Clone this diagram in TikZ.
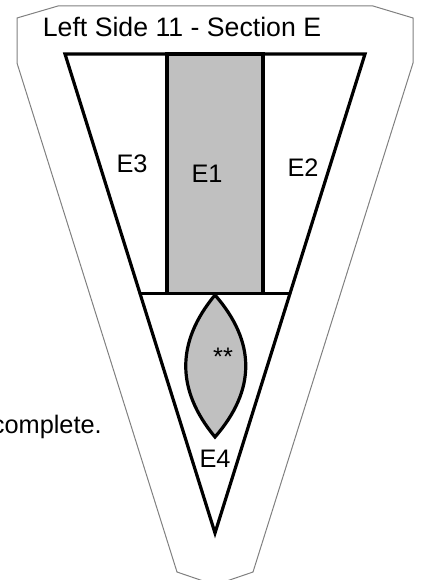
\documentclass[tikz,border=0pt]{standalone}
\usepackage{fontspec}
\setmainfont{Liberation Sans}
\usetikzlibrary{calc}
\definecolor{ink}{HTML}{000000}
\definecolor{rim}{HTML}{808080}
\definecolor{shade}{HTML}{C0C0C0}
\tikzset{
    outline/.style={draw=rim, line width=0.75pt, line join=miter},
    section/.style={draw=ink, line width=2.4pt, line join=miter},
    shaded section/.style={section, fill=shade},
    title/.style={font=\fontsize{20}{23}\selectfont, text=ink,
                  anchor=base, inner sep=0pt},
    zone label/.style={font=\fontsize{19}{22}\selectfont, text=ink,
                       anchor=base, inner sep=0pt},
}

\begin{document}
\begin{tikzpicture}[x=0.75pt, y=-0.75pt]
\useasboundingbox (0,0) rectangle (424,580);
\clip (0,0) rectangle (424,580);

% ---------------------------------------------------------------------------
% Outer cut line
% ---------------------------------------------------------------------------
\draw[outline] (17,18) -- (58,6) -- (373,6) -- (413,18) -- (413,63)
    -- (253,572) -- (215,585) -- (177,572) -- (17,63) -- cycle;

% ---------------------------------------------------------------------------
% Section E
% ---------------------------------------------------------------------------
\coordinate (tl) at (65,54);
\coordinate (tr) at (365,54);
\coordinate (tip) at (215,533);
\coordinate (ml) at ($(tl)!0.5!(tip)$);
\coordinate (mr) at ($(tr)!0.5!(tip)$);

\draw[shaded section] (167,54) rectangle (263,293.5);
\draw[section] (tl) -- (tr) -- (tip) -- cycle;
\draw[section] (ml) -- (mr);

% lens in E4
\coordinate (lt) at (215,295);
\coordinate (lb) at (215,437);
\draw[shaded section] (lt) .. controls (176,342) and (176,390) .. (lb)
    .. controls (256,390) and (256,342) .. (lt) -- cycle;

% ---------------------------------------------------------------------------
% Labels
% ---------------------------------------------------------------------------
\node[title] (heading) at (182,37) {Left Side 11 - Section E};
\node[zone label] (e3) at (132,173) {E3};
\node[zone label] (e1) at (207,183) {E1};
\node[zone label] (e2) at (303,177) {E2};
\node[zone label] (e4) at (215,467) {E4};
\node[zone label] (mark) at (223,365) {**};
\node[zone label, anchor=base east] (note) at (102,433) {complete.};

\end{tikzpicture}
\end{document}
